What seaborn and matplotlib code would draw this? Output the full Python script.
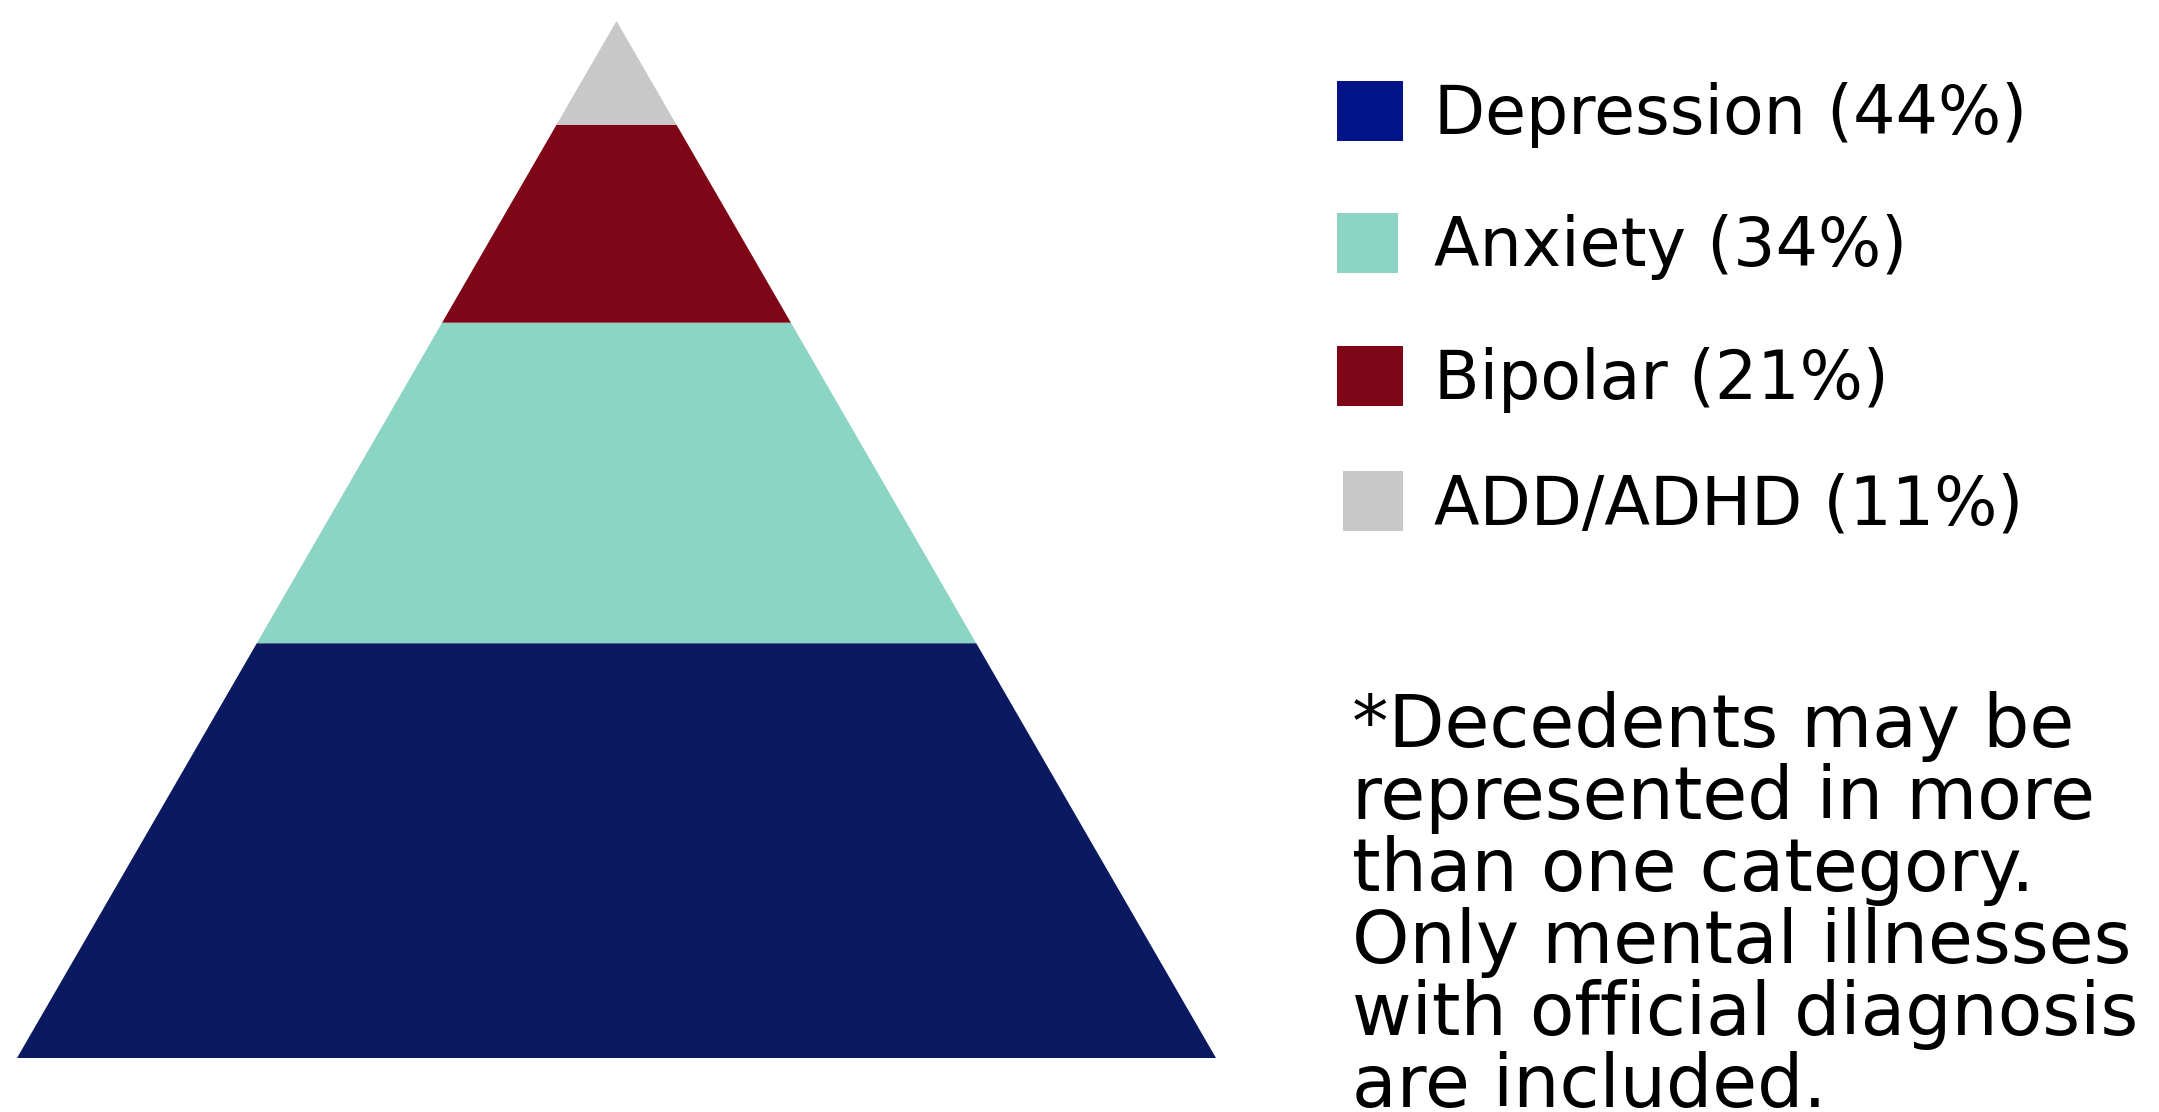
import matplotlib
matplotlib.use("Agg")
import matplotlib.pyplot as plt
import seaborn as sns
from matplotlib.patches import Rectangle

categories = ["Depression", "Anxiety", "Bipolar", "ADD/ADHD"]
values = [44, 34, 21, 11]
pyramid_colors = ["#0B1A60", "#8CD4C4", "#7E0616", "#C8C8C8"]
legend_colors = ["#031489", "#8CD4C4", "#7E0616", "#C8C8C8"]
note_lines = [
    "*Decedents may be",
    "represented in more",
    "than one category.",
    "Only mental illnesses",
    "with official diagnosis",
    "are included.",
]

sns.set_theme(style="white")
plt.rcParams['font.family'] = ['DejaVu Sans']

W, H = 2159, 1112
fig = plt.figure(figsize=(W / 100, H / 100), dpi=100)
fig.patch.set_facecolor("white")

# pyramid axes
ax = fig.add_axes([17 / W, 1 - 1058 / H, (1216 - 17) / W, (1058 - 21) / H])
total = sum(values)
bottom = 0
for v, c in zip(values, pyramid_colors):
    top = bottom + v
    hb = 1 - bottom / total
    ht = 1 - top / total
    ax.fill([-hb, hb, ht, -ht], [bottom, bottom, top, top], color=c, lw=0)
    bottom = top
ax.set_xlim(-1, 1)
ax.set_ylim(0, total)
ax.axis("off")

# legend (layout in figure pixels)
patch_x = [(1337, 1403), (1337, 1398), (1337, 1403), (1343, 1403)]
patch_y = [81, 213, 346, 471]
LFS = 48
for i, (cat, v, c) in enumerate(zip(categories, values, legend_colors)):
    x0, x1 = patch_x[i]
    ytop = patch_y[i]
    fig.add_artist(Rectangle((x0 / W, 1 - (ytop + 60) / H), (x1 - x0) / W, 60 / H,
                             transform=fig.transFigure, color=c, lw=0))
    yc = ytop + 30
    fig.text(1434 / W, 1 - (yc + 23.5) / H, f"{cat} ({v}%)", fontsize=LFS,
             va="baseline", ha="left", color="black")

# note
NFS = 52.5
for j, line in enumerate(note_lines):
    fig.text(1352 / W, 1 - (747 + 72 * j) / H, line, fontsize=NFS,
             va="baseline", ha="left", color="black")

fig.savefig("out.png", dpi=100, facecolor="white")
